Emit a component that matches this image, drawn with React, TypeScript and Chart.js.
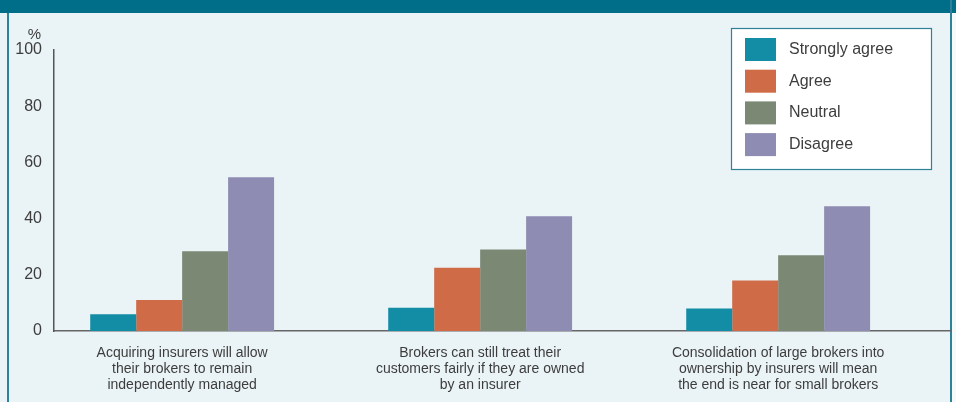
import React, { useEffect, useRef } from "react";
import { Chart, registerables } from "chart.js";

Chart.register(...registerables);

const CATEGORIES: string[][] = [
  ["Acquiring insurers will allow", "their brokers to remain", "independently managed"],
  ["Brokers can still treat their", "customers fairly if they are owned", "by an insurer"],
  ["Consolidation of large brokers into", "ownership by insurers will mean", "the end is near for small brokers"],
];
const SERIES_NAMES = ["Strongly agree", "Agree", "Neutral", "Disagree"];
const STRONGLY_AGREE = [6, 8.3, 8];
const AGREE = [11, 22.5, 18];
const NEUTRAL = [28.4, 29, 27];
const DISAGREE = [54.7, 40.8, 44.4];
const COLORS = ["#138CA5", "#CF6C47", "#7A8874", "#8E8CB2"];
const Y_TICKS = [0, 20, 40, 60, 80, 100];

const FONT = "'Liberation Sans', Arial, sans-serif";
const TEXT = "#3d3d3d";

const legendPlugin = {
  id: "boxLegend",
  afterDraw(chart: any) {
    const ctx = chart.ctx;
    const x0 = 731, y0 = 28, w = 200, h = 141;
    ctx.save();
    ctx.fillStyle = "#ffffff";
    ctx.fillRect(x0, y0, w, h);
    ctx.strokeStyle = "#2E8199";
    ctx.lineWidth = 1.2;
    ctx.strokeRect(x0 + 0.5, y0 + 0.5, w, h);
    chart.data.datasets.forEach((ds: any, i: number) => {
      const top = 38 + i * 31.7;
      ctx.fillStyle = ds.backgroundColor;
      ctx.fillRect(745, top, 31, 23);
      ctx.fillStyle = TEXT;
      ctx.font = `16px ${FONT}`;
      ctx.textAlign = "left";
      ctx.textBaseline = "middle";
      ctx.fillText(ds.label, 789, top + 11.5);
    });
    // percent unit label above the top tick
    const ys = chart.scales.y;
    ctx.fillStyle = TEXT;
    ctx.font = `15px ${FONT}`;
    ctx.textAlign = "right";
    ctx.textBaseline = "middle";
    ctx.fillText("%", 41, ys.getPixelForValue(100) - 15.5);
    ctx.restore();
  },
};

export default function App() {
  const ref = useRef<HTMLCanvasElement | null>(null);

  useEffect(() => {
    document.body.style.margin = "0";
    const series = [STRONGLY_AGREE, AGREE, NEUTRAL, DISAGREE];
    const chart = new Chart(ref.current as HTMLCanvasElement, {
      type: "bar",
      data: {
        datasets: series.map((vals, i) => ({
          label: SERIES_NAMES[i],
          data: vals.map((v, j) => ({ x: j, y: v })),
          backgroundColor: COLORS[i],
          borderWidth: 0,
          categoryPercentage: 0.617,
          barPercentage: 1,
        })),
      },
      options: {
        animation: false,
        responsive: false,
        layout: { padding: { top: 50, right: 5, left: 0, bottom: 0 } },
        plugins: { legend: { display: false }, tooltip: { enabled: false } },
        scales: {
          x: {
            type: "linear",
            offset: false,
            min: -0.43,
            max: 2.58,
            grid: { display: false, drawTicks: false, offset: false },
            border: { display: true, color: "#666666", width: 1.5 },
            afterBuildTicks: (scale: any) => {
              scale.ticks = CATEGORIES.map((_, i) => ({ value: i }));
            },
            afterFit: (scale: any) => {
              scale.height = 71;
            },
            ticks: {
              autoSkip: false,
              maxRotation: 0,
              minRotation: 0,
              padding: 14.5,
              color: TEXT,
              font: { family: FONT, size: 14, lineHeight: 1.12 },
              callback: (value: any) => CATEGORIES[Math.round(Number(value))] as any,
            },
          },
          y: {
            min: 0,
            max: 100,
            grid: { display: false, drawTicks: false },
            border: { display: true, color: "#555555", width: 1.5 },
            afterBuildTicks: (scale: any) => {
              scale.ticks = Y_TICKS.map((v) => ({ value: v }));
            },
            afterFit: (scale: any) => {
              scale.width = 54;
            },
            ticks: {
              padding: 12,
              color: TEXT,
              font: { family: FONT, size: 16 },
            },
          },
        },
      },
      plugins: [legendPlugin],
    } as any);
    return () => chart.destroy();
  }, []);

  return (
    <div style={{ position: "relative", width: 956, height: 402, background: "#EAF3F6", overflow: "hidden" }}>
      <div style={{ position: "absolute", left: 0, top: 0, width: 956, height: 13, background: "#006D89" }} />
      <div style={{ position: "absolute", left: 7, top: 13, width: 2, height: 389, background: "#2E8199" }} />
      <div style={{ position: "absolute", left: 950, top: 0, width: 2, height: 402, background: "#2E8199" }} />
      <div style={{ position: "absolute", left: 952, top: 13, width: 4, height: 389, background: "#F4F9FA" }} />
      <canvas ref={ref} width={956} height={402} style={{ position: "absolute", left: 0, top: 0, display: "block" }} />
    </div>
  );
}
